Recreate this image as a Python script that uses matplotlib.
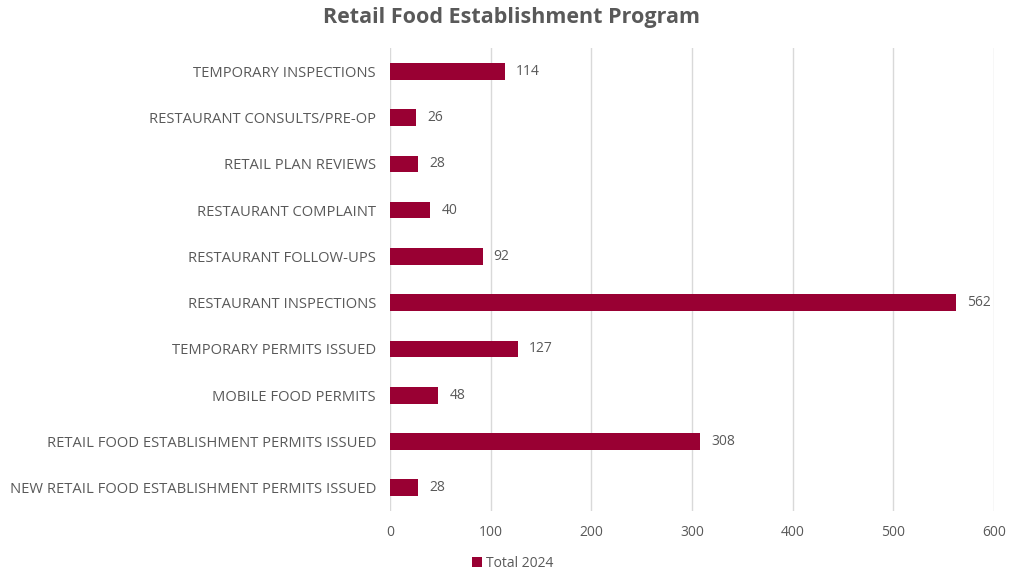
import matplotlib.pyplot as plt

categories = [
    "NEW RETAIL FOOD ESTABLISHMENT PERMITS ISSUED",
    "RETAIL FOOD ESTABLISHMENT PERMITS ISSUED",
    "MOBILE FOOD PERMITS",
    "TEMPORARY PERMITS ISSUED",
    "RESTAURANT INSPECTIONS",
    "RESTAURANT FOLLOW-UPS",
    "RESTAURANT COMPLAINT",
    "RETAIL PLAN REVIEWS",
    "RESTAURANT CONSULTS/PRE-OP",
    "TEMPORARY INSPECTIONS",
]
totals_2024 = [28, 308, 48, 127, 562, 92, 40, 28, 26, 114]
x_ticks = [0, 100, 200, 300, 400, 500, 600]

bar_color = "#990033"
text_color = "#595959"

plt.rcParams['font.family'] = ['Open Sans', 'DejaVu Sans']

fig = plt.figure(figsize=(10.09, 5.74), dpi=100)
ax = fig.add_axes([0.3865, 0.110, 0.5985, 0.806])

ypos = list(range(len(categories)))
ax.barh(ypos, totals_2024, height=0.36, color=bar_color, label="Total 2024", zorder=3)
for y, v in zip(ypos, totals_2024):
    ax.text(v + 11, y, str(v), va="center", ha="left", fontsize=10, color=text_color)

ax.set_yticks(ypos)
ax.set_yticklabels(categories, fontsize=10.6, color=text_color)
ax.set_ylim(-0.5, len(categories) - 0.5)
ax.set_xlim(0, 600)
ax.set_xticks(x_ticks)
ax.set_xticklabels([str(t) for t in x_ticks], fontsize=10, color=text_color)
ax.tick_params(axis="both", length=0)
ax.tick_params(axis="x", pad=10)
ax.tick_params(axis="y", pad=10)
ax.xaxis.grid(True, color="#d9d9d9", linewidth=1, zorder=0)
for s in ax.spines.values():
    s.set_visible(False)

fig.suptitle("Retail Food Establishment Program", x=0.507, y=0.988, fontsize=15.5,
             fontweight="bold", color=text_color)

fig.legend(loc="center", bbox_to_anchor=(0.508, 0.019), frameon=False,
           handlelength=0.7, handleheight=0.7, handletextpad=0.3,
           fontsize=10, labelcolor=text_color)

fig.savefig("out.png", dpi=100)
